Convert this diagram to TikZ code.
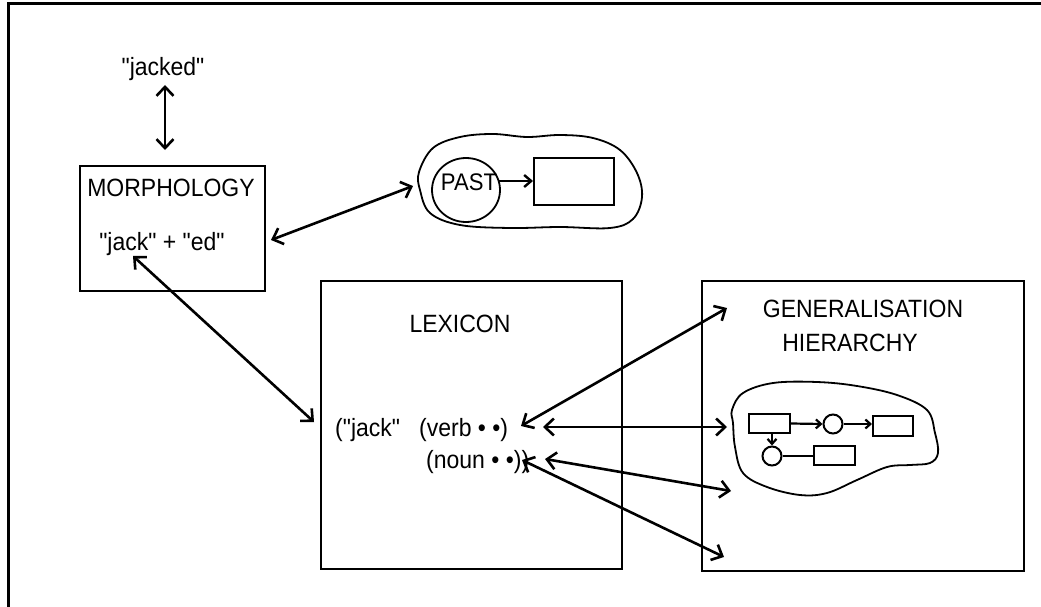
\documentclass[tikz,border=0pt]{standalone}
\usepackage{fontspec}
\setmainfont{Liberation Sans}[Ligatures=TeXOff, FakeStretch=0.92]
\usetikzlibrary{arrows.meta,shapes.geometric}
\begin{document}
\begin{tikzpicture}[x=1pt,y=-1pt,
  txt/.style={font=\fontsize{25}{29}\selectfont, inner sep=0pt},
  box/.style={draw, line width=2pt, inner sep=0pt},
  blob/.style={line width=1.8pt},
  barb/.tip={Straight Barb[length=9pt,width=17pt]},
  link/.style={line width=2.6pt, {barb}-{barb}},
  small/.tip={Straight Barb[length=5pt,width=9pt]},
  mini/.style={draw, line width=2pt, inner sep=0pt},
  minilink/.style={line width=2.2pt, -{small}}]
\useasboundingbox (0,0) rectangle (1041,607);

% outer frame (top and left edges only)
\draw[line width=3pt] (8,607) -- (8,4) -- (1041,4);

% --- morphology ---
\node[txt, anchor=base] (jacked) at (163,76) {"jacked"};
\node[box, anchor=north west, minimum width=185pt, minimum height=125pt] (morph) at (79,165) {};
\node[txt, anchor=base] (morphT) at (171,196) {MORPHOLOGY};
\node[txt, anchor=base] (jacked2) at (162,250) {"jack" + "ed"};
\coordinate (jkTop) at (165,85);
\coordinate (jkBot) at (165,150);
\draw[link] (jkTop) -- (jkBot);

% --- PAST cloud ---
\draw[blob] plot[smooth cycle, tension=0.6] coordinates {
  (419,172) (433,148) (460,137) (493,134) (527,137) (560,135) (593,138)
  (620,150) (637,173) (642,197) (633,219) (610,228) (560,227) (510,228)
  (460,225) (430,213) (420,190)};
\node[draw, ellipse, line width=1.8pt, minimum width=68pt, minimum height=64pt, inner sep=0pt] (pastE) at (466,190) {};
\node[txt, font=\fontsize{24}{28}\selectfont, anchor=base] (past) at (469,190) {PAST};
\node[box, line width=1.8pt, anchor=north west, minimum width=80pt, minimum height=47pt] (pastR) at (533,157) {};
\coordinate (pastA) at (499,181);
\coordinate (pastB) at (533,181);
\draw[minilink, line width=2.4pt, -{Straight Barb[length=7pt,width=12pt]}] (pastA) -- (pastB);
\coordinate (mpL) at (271,240);
\coordinate (mpR) at (413,186);
\draw[link] (mpL) -- (mpR);

% --- lexicon ---
\node[box, anchor=north west, minimum width=301pt, minimum height=288pt] (lex) at (320,280) {};
\node[txt, anchor=base] (lexT) at (460,332) {LEXICON};
\node[txt, anchor=base west] (word) at (335,436) {("jack"};
\node[txt, anchor=base west] (verb) at (419,436) {(verb • •)};
\node[txt, anchor=base west] (noun) at (426,468) {(noun • •))};
\coordinate (mlA) at (133,256);
\coordinate (mlB) at (314,422);
\draw[link] (mlA) -- (mlB);

% --- generalisation hierarchy ---
\node[box, anchor=north west, minimum width=322pt, minimum height=290pt] (gen) at (701,280) {};
\node[txt, anchor=base] (genT1) at (863,317) {GENERALISATION};
\node[txt, anchor=base] (genT2) at (850,351) {HIERARCHY};
\draw[blob] plot[smooth cycle, tension=0.6] coordinates {
  (732,410) (743,393) (773,383) (817,382) (857,386) (897,395) (927,410)
  (935,433) (938,453) (930,463) (910,465) (887,467) (857,480) (827,493)
  (800,495) (767,487) (743,473) (735,447) (733,423)};
\node[mini, anchor=north west, minimum width=41pt, minimum height=19pt] (g1) at (748,413) {};
\node[mini, circle, minimum size=19pt] (g2) at (833,424) {};
\node[mini, anchor=north west, minimum width=40pt, minimum height=20pt] (g3) at (872,415) {};
\node[mini, circle, minimum size=19pt] (g4) at (772,456) {};
\node[mini, anchor=north west, minimum width=41pt, minimum height=19pt] (g5) at (813,445) {};
\draw[minilink] (g1.east) -- (g2.west);
\draw[minilink] (g2.east) -- (g3.west |- g2.east);
\draw[minilink] (g1.south -| g4.north) -- (g4.north);
\draw[line width=2.2pt] (g4.east) -- (g5.west |- g4.east);

% --- links between lexicon entries and the hierarchy ---
\coordinate (v1) at (521,426);
\coordinate (h1) at (727,308);
\coordinate (v2) at (543,427);
\coordinate (h2) at (727,427);
\coordinate (n1) at (545,459);
\coordinate (h3) at (731,491);
\coordinate (n2) at (522,460);
\coordinate (h4) at (724,557);
\draw[link] (v1) -- (h1);
\draw[link] (v2) -- (h2);
\draw[link] (n1) -- (h3);
\draw[link] (n2) -- (h4);
\end{tikzpicture}
\end{document}
